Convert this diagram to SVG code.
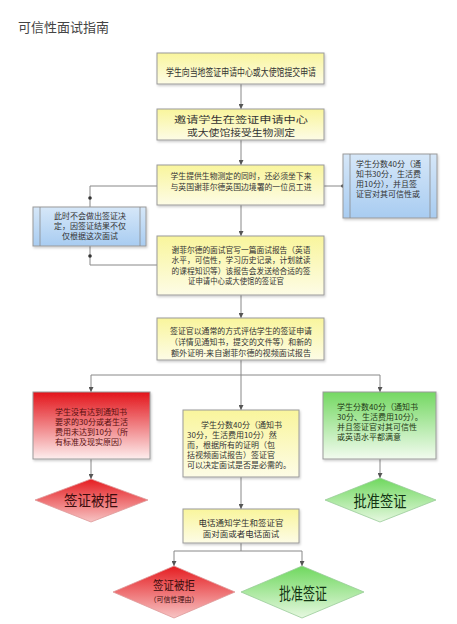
<svg xmlns="http://www.w3.org/2000/svg" width="457" height="624" viewBox="0 0 457 624">
<defs>
<linearGradient id="gY" x1="0" y1="0" x2="0" y2="1"><stop offset="0" stop-color="#f9f59c"/><stop offset="1" stop-color="#fdfce6"/></linearGradient>
<linearGradient id="gB" x1="0" y1="0" x2="0" y2="1"><stop offset="0" stop-color="#d6e7f8"/><stop offset="1" stop-color="#a8ccf1"/></linearGradient>
<linearGradient id="gR" x1="0" y1="0" x2="0" y2="1"><stop offset="0" stop-color="#e3141a"/><stop offset="1" stop-color="#fdeeee"/></linearGradient>
<linearGradient id="gG" x1="0" y1="0" x2="0" y2="1"><stop offset="0" stop-color="#74d862"/><stop offset="1" stop-color="#f2fbef"/></linearGradient>
<linearGradient id="gRD" x1="0" y1="0" x2="0" y2="1"><stop offset="0" stop-color="#e51c20"/><stop offset="1" stop-color="#f7c4c4"/></linearGradient>
<linearGradient id="gGD" x1="0" y1="0" x2="0" y2="1"><stop offset="0" stop-color="#6fd85e"/><stop offset="1" stop-color="#e6f8e0"/></linearGradient>
<filter id="sh" x="-10%" y="-10%" width="130%" height="140%"><feDropShadow dx="1" dy="1.5" stdDeviation="1" flood-color="#000" flood-opacity="0.2"/></filter>
<marker id="arr" viewBox="0 0 10 10" refX="10" refY="5" markerWidth="5" markerHeight="5" orient="auto"><path d="M0,0 L10,5 L0,10 z" fill="#555"/></marker>
</defs>
<style>
text{font-family:"Noto Sans CJK SC","Noto Sans",sans-serif;fill:#333;}
.t8{font-size:8px;}
.c{text-anchor:middle;}
.box{stroke:#9a9a9a;stroke-width:1;filter:url(#sh);}
.y{fill:url(#gY);}
.b{fill:url(#gB);}
.r{fill:url(#gR);}
.g{fill:url(#gG);}
.rd{fill:url(#gRD);stroke:#d99;stroke-width:0.8;}
.gd{fill:url(#gGD);stroke:#9c9;stroke-width:0.8;}
.ln{fill:none;stroke:#888;stroke-width:1;}
.dot{fill:#333;}
.inner{stroke:#8a8a8a;stroke-width:0.8;}
</style>
<rect width="457" height="624" fill="#ffffff"/>
<text x="18" y="32" style="font-size:13px;fill:#444">可信性面试指南</text>

<g id="connectors">
<line class="ln" x1="241" y1="84" x2="241" y2="109" marker-end="url(#arr)"/>
<line class="ln" x1="241" y1="140" x2="241" y2="165" marker-end="url(#arr)"/>
<line class="ln" x1="324" y1="186" x2="343" y2="186"/>
<circle class="dot" cx="343" cy="186" r="1.8"/>
<polyline class="ln" points="157,186 90,186 90,207"/>
<circle class="dot" cx="90" cy="198" r="1.8"/>
<polyline class="ln" points="90,246 90,265 157,265"/>
<circle class="dot" cx="90" cy="256" r="1.8"/>
<line class="ln" x1="241" y1="205" x2="241" y2="236" marker-end="url(#arr)"/>
<line class="ln" x1="241" y1="295" x2="241" y2="318" marker-end="url(#arr)"/>
<line class="ln" x1="241" y1="360" x2="241" y2="410" marker-end="url(#arr)"/>
<line class="ln" x1="91" y1="375" x2="380" y2="375"/>
<line class="ln" x1="91" y1="375" x2="91" y2="392" marker-end="url(#arr)"/>
<line class="ln" x1="380" y1="375" x2="380" y2="392" marker-end="url(#arr)"/>
<line class="ln" x1="91" y1="459" x2="91" y2="479" marker-end="url(#arr)"/>
<line class="ln" x1="380" y1="459" x2="380" y2="478" marker-end="url(#arr)"/>
<line class="ln" x1="241" y1="477" x2="241" y2="509" marker-end="url(#arr)"/>
<line class="ln" x1="241" y1="543" x2="241" y2="551"/>
<line class="ln" x1="174" y1="551" x2="302" y2="551"/>
<line class="ln" x1="174" y1="551" x2="174" y2="566" marker-end="url(#arr)"/>
<line class="ln" x1="302" y1="551" x2="302" y2="566" marker-end="url(#arr)"/>
</g>

<g id="n1">
<rect class="box y" x="157" y="53" width="167" height="31"/>
<text class="c" x="241" y="76" style="font-size:10px" textLength="150" lengthAdjust="spacingAndGlyphs">学生向当地签证申请中心或大使馆提交申请</text>
</g>
<g id="n2">
<rect class="box y" x="157" y="109" width="167" height="31"/>
<text class="c" x="241" y="123" style="font-size:9px" textLength="134" lengthAdjust="spacingAndGlyphs">邀请学生在签证申请中心</text>
<text class="c" x="241" y="135.5" style="font-size:9px" textLength="108" lengthAdjust="spacingAndGlyphs">或大使馆接受生物测定</text>
</g>
<g id="n3">
<rect class="box y" x="157" y="165" width="167" height="40"/>
<text class="c t8" x="241" y="179" textLength="141" lengthAdjust="spacingAndGlyphs">学生提供生物测定的同时，还必须坐下来</text>
<text class="c t8" x="241" y="190" textLength="141" lengthAdjust="spacingAndGlyphs">与英国谢菲尔德英国边境署的一位员工进</text>
</g>
<g id="n4">
<rect class="box b" x="343" y="154" width="94" height="64"/>
<line class="inner" x1="350" y1="154" x2="350" y2="218"/>
<line class="inner" x1="430" y1="154" x2="430" y2="218"/>
<text class="t8" x="356" y="167">学生分数40分（通</text>
<text class="t8" x="356" y="177">知书30分，生活费</text>
<text class="t8" x="356" y="187">用10分），并且签</text>
<text class="t8" x="356" y="197">证官对其可信性或</text>
</g>
<g id="n5">
<rect class="box b" x="33" y="207" width="113" height="39"/>
<line class="inner" x1="40" y1="207" x2="40" y2="246"/>
<line class="inner" x1="140" y1="207" x2="140" y2="246"/>
<text class="c t8" x="90" y="219">此时不会做出签证决</text>
<text class="c t8" x="90" y="229">定，因签证结果不仅</text>
<text class="c t8" x="90" y="239">仅根据这次面试</text>
</g>
<g id="n6">
<rect class="box y" x="157" y="236" width="167" height="59"/>
<text class="c t8" x="241" y="253" textLength="139" lengthAdjust="spacingAndGlyphs">谢菲尔德的面试官写一篇面试报告（英语</text>
<text class="c t8" x="241" y="263" textLength="139" lengthAdjust="spacingAndGlyphs">水平，可信性，学习历史记录，计划就读</text>
<text class="c t8" x="241" y="274" textLength="139" lengthAdjust="spacingAndGlyphs">的课程知识等）该报告会发送给合适的签</text>
<text class="c t8" x="236" y="284" textLength="96" lengthAdjust="spacingAndGlyphs">证申请中心或大使馆的签证官</text>
</g>
<g id="n7">
<rect class="box y" x="157" y="318" width="167" height="42"/>
<text class="c t8" x="241" y="334" textLength="142" lengthAdjust="spacingAndGlyphs">签证官以通常的方式评估学生的签证申请</text>
<text class="c t8" x="241" y="345" textLength="142" lengthAdjust="spacingAndGlyphs">（详情见通知书，提交的文件等）和新的</text>
<text class="c t8" x="241" y="356" textLength="140" lengthAdjust="spacingAndGlyphs">额外证明-来自谢菲尔德的视频面试报告</text>
</g>
<g id="n8">
<rect class="box r" x="33" y="392" width="117" height="67"/>
<text class="t8" x="55" y="415" style="fill:#5a1010">学生没有达到通知书</text>
<text class="t8" x="55" y="425" style="fill:#5a1010">要求的30分或者生活</text>
<text class="t8" x="55" y="435" style="fill:#5a1010">费用未达到10分（所</text>
<text class="t8" x="55" y="445" style="fill:#5a1010">有标准及现实原因）</text>
</g>
<g id="n9">
<rect class="box y" x="183" y="410" width="116" height="67"/>
<text class="t8" x="201" y="428">学生分数40分（通知书</text>
<text class="t8" x="187" y="438">30分，生活费用10分）然</text>
<text class="t8" x="187" y="448">而，根据所有的证明（包</text>
<text class="t8" x="187" y="458">括视频面试报告）签证官</text>
<text class="t8" x="187" y="468">可以决定面试是否是必需的。</text>
</g>
<g id="n10">
<rect class="box g" x="323" y="392" width="113" height="67"/>
<text class="t8" x="337" y="410" style="fill:#1f3a14">学生分数40分（通知书</text>
<text class="t8" x="337" y="420" style="fill:#1f3a14">30分、生活费用10分）。</text>
<text class="t8" x="337" y="430" style="fill:#1f3a14">并且签证官对其可信性</text>
<text class="t8" x="337" y="440" style="fill:#1f3a14">或英语水平都满意</text>
</g>
<g id="n11">
<polygon class="rd" points="91,479 148,500 91,522 35,500"/>
<text class="c" x="91" y="506" style="font-size:15px;fill:#3a0c0c" textLength="54" lengthAdjust="spacingAndGlyphs">签证被拒</text>
</g>
<g id="n12">
<polygon class="gd" points="380,478 436,500 380,522 325,500"/>
<text class="c" x="380" y="507" style="font-size:16px;fill:#123312" textLength="53" lengthAdjust="spacingAndGlyphs">批准签证</text>
</g>
<g id="n13">
<rect class="box y" x="183" y="509" width="116" height="34"/>
<text class="c" x="241" y="526" style="font-size:8.5px">电话通知学生和签证官</text>
<text class="c" x="241" y="537" style="font-size:8.5px">面对面或者电话面试</text>
</g>
<g id="n14">
<polygon class="rd" points="174,566 235,592 174,618 113,592"/>
<text class="c" x="174" y="590" style="font-size:12px;fill:#3a0c0c" textLength="42" lengthAdjust="spacingAndGlyphs">签证被拒</text>
<text class="c" x="174" y="602" style="font-size:7px;fill:#3a0c0c">（可信性理由）</text>
</g>
<g id="n15">
<polygon class="gd" points="302,566 364,592 302,618 241,592"/>
<text class="c" x="303" y="600" style="font-size:17px;fill:#123312" textLength="48" lengthAdjust="spacingAndGlyphs">批准签证</text>
</g>
</svg>
